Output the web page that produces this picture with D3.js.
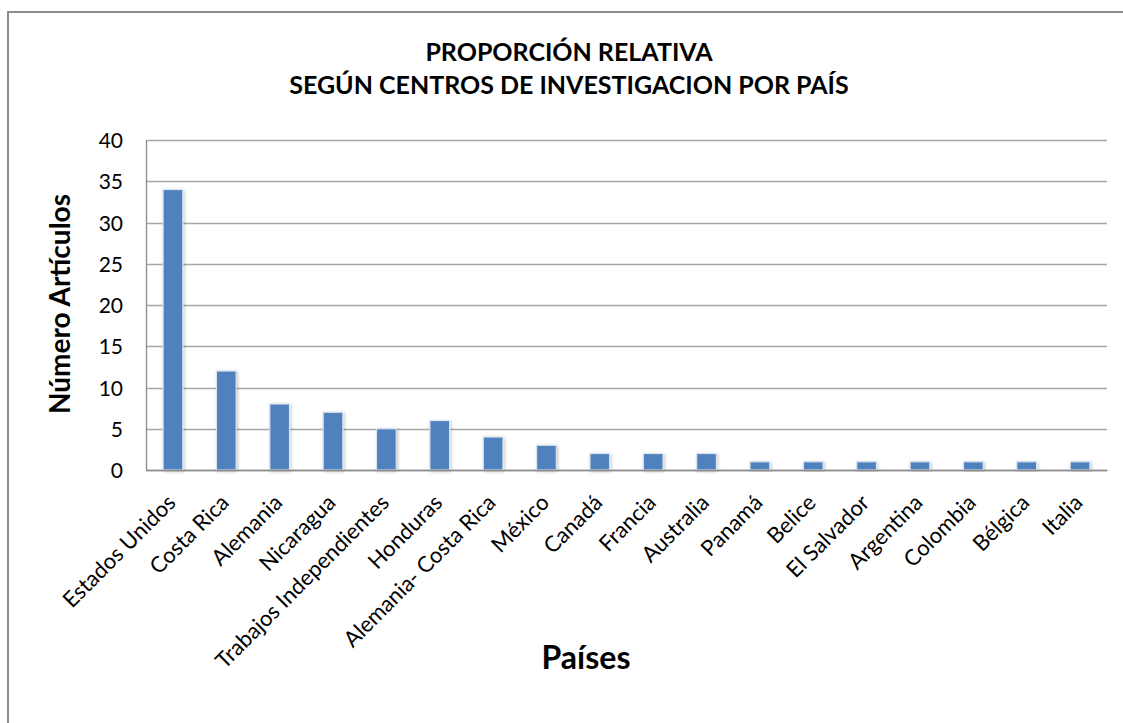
<!DOCTYPE html>
<html>
<head>
<meta charset="utf-8">
<script src="https://cdn.jsdelivr.net/npm/d3@7"></script>
<style>
  html, body { margin: 0; background: #fff; overflow: hidden; }
  svg { display: block; }
  text { font-family: Lato, "Open Sans", sans-serif; fill: #000; }
</style>
</head>
<body>
<div id="chart"></div>
<script>
let paises = ["Estados Unidos", "Costa Rica", "Alemania", "Nicaragua", "Trabajos Independientes",
    "Honduras", "Alemania- Costa Rica", "México", "Canadá", "Francia", "Australia", "Panamá",
    "Belice", "El Salvador", "Argentina", "Colombia", "Bélgica", "Italia"];
let articulos = [34, 12, 8, 7, 5, 6, 4, 3, 2, 2, 2, 1, 1, 1, 1, 1, 1, 1];
let yTicks = [0, 5, 10, 15, 20, 25, 30, 35, 40];
let titleLines = ["PROPORCIÓN RELATIVA", "SEGÚN CENTROS DE INVESTIGACION POR PAÍS"];

let data = paises.map((p, i) => ({pais: p, valor: articulos[i]}));

let W = 1123, H = 723;
let margin = {top: 140, right: 16, bottom: 253, left: 146},
    width = W - margin.left - margin.right,
    height = H - margin.top - margin.bottom;

let svgRoot = d3.select("#chart")
    .append("svg")
    .attr("width", W)
    .attr("height", H);

// outer chart frame: only its top and left edges fall inside the picture
svgRoot.append("path")
    .attr("d", "M8," + (H + 10) + "V12H" + (W + 10))
    .attr("fill", "none")
    .attr("stroke", "#8c8c8c")
    .attr("stroke-width", 2);

let defs = svgRoot.append("defs");
let shadow = defs.append("filter").attr("id", "shadow")
    .attr("x", "-30%").attr("y", "-10%").attr("width", "160%").attr("height", "130%");
shadow.append("feDropShadow")
    .attr("dx", 1).attr("dy", 1).attr("stdDeviation", 1.5)
    .attr("flood-color", "#000").attr("flood-opacity", 0.25);

let svg = svgRoot.append("g")
    .attr("transform", "translate(" + margin.left + "," + margin.top + ")");

let x = d3.scaleBand().domain(paises).range([0, width]).paddingInner(0.63).paddingOuter(0.32);
let y = d3.scaleLinear().domain([0, 40]).range([height, 0]);

// gridlines
svg.append("g")
    .attr("class", "grid")
    .selectAll("line")
    .data(yTicks)
    .join("line")
    .attr("x1", 0)
    .attr("x2", width)
    .attr("y1", d => Math.round(y(d)) + 0.5)
    .attr("y2", d => Math.round(y(d)) + 0.5)
    .attr("stroke", "#a6a6a6")
    .attr("stroke-width", 1.3);

// y axis
let yAxis = d3.axisLeft(y).tickValues(yTicks).tickSize(0).tickPadding(23);
let gy = svg.append("g").call(yAxis);
gy.select(".domain").attr("stroke", "#8c8c8c").attr("stroke-width", 1.3);
gy.selectAll("text").style("font-size", "21px").attr("fill", "#000").attr("dy", "0.36em");

// bars
svg.append("g")
    .selectAll("rect")
    .data(data)
    .join("rect")
    .attr("x", d => x(d.pais))
    .attr("y", d => y(d.valor))
    .attr("width", x.bandwidth())
    .attr("height", d => height - y(d.valor))
    .attr("fill", "#4f81bd")
    .attr("stroke", "#dbe5f1")
    .attr("stroke-width", 1.2)
    .attr("filter", "url(#shadow)");

// x axis line + rotated labels
let xAxis = d3.axisBottom(x).tickSize(0).tickPadding(0);
let gx = svg.append("g")
    .attr("transform", "translate(0," + height + ")")
    .call(xAxis);
gx.select(".domain").attr("stroke", "#8c8c8c").attr("stroke-width", 1.3);
gx.selectAll("text")
    .style("font-size", "22px")
    .attr("fill", "#000")
    .attr("text-anchor", "end")
    .attr("dy", 0)
    .attr("y", 0)
    .attr("transform", "translate(4,34) rotate(-45)");

// title
svgRoot.append("g")
    .selectAll("text")
    .data(titleLines)
    .join("text")
    .attr("x", 569)
    .attr("y", (d, i) => 61 + i * 33)
    .attr("text-anchor", "middle")
    .style("font-size", "25px")
    .style("font-weight", "bold")
    .text(d => d);

// axis titles
svgRoot.append("text")
    .attr("transform", "translate(70,304) rotate(-90)")
    .attr("text-anchor", "middle")
    .style("font-size", "28px")
    .style("font-weight", "bold")
    .text("Número Artículos");

svgRoot.append("text")
    .attr("x", 586)
    .attr("y", 669)
    .attr("text-anchor", "middle")
    .style("font-size", "32px")
    .style("font-weight", "bold")
    .text("Países");
</script>
</body>
</html>
